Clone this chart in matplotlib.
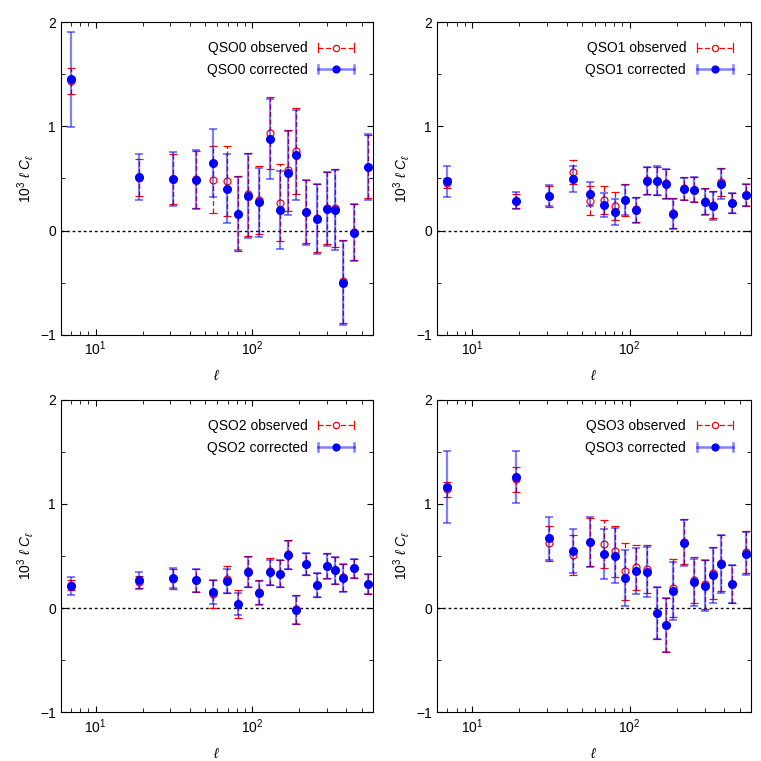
import numpy as np
import matplotlib
matplotlib.use('Agg')
import matplotlib.pyplot as plt
from matplotlib.lines import Line2D
from matplotlib.legend_handler import HandlerBase
from matplotlib.ticker import LogLocator, MultipleLocator, NullFormatter

plt.rcParams['font.family'] = ['Liberation Sans', 'DejaVu Sans']
plt.rcParams['mathtext.fontset'] = 'custom'
plt.rcParams['mathtext.rm'] = 'Liberation Sans'
plt.rcParams['mathtext.it'] = 'Liberation Sans:italic'

# multipole bin centres
ell = [7, 19, 31, 44, 56, 69, 81, 94, 110, 130, 150, 170, 190, 220, 258,
       300, 340, 378, 445, 550]

names = ['QSO0', 'QSO1', 'QSO2', 'QSO3']

# observed spectra (10^3 ell C_ell) and errors
obs0 = [1.435, 0.508, 0.495, 0.49, 0.489, 0.473, 0.163, 0.348, 0.294, 0.933,
        0.268, 0.578, 0.764, 0.182, 0.118, 0.217, 0.214, -0.486, -0.016, 0.613]
obs0_err = [0.123, 0.175, 0.238, 0.278, 0.32, 0.335, 0.358, 0.40, 0.328, 0.345,
            0.366, 0.39, 0.41, 0.303, 0.328, 0.348, 0.374, 0.398, 0.27, 0.30]
obs1 = [0.46, 0.281, 0.329, 0.565, 0.288, 0.294, 0.236, 0.294, 0.204, 0.482,
        0.479, 0.453, 0.166, 0.405, 0.393, 0.288, 0.246, 0.463, 0.265, 0.339]
obs1_err = [0.048, 0.067, 0.10, 0.115, 0.135, 0.137, 0.137, 0.15, 0.12, 0.128,
            0.135, 0.142, 0.142, 0.11, 0.12, 0.125, 0.13, 0.136, 0.096, 0.105]
obs2 = [0.217, 0.249, 0.278, 0.265, 0.137, 0.275, 0.038, 0.351, 0.153, 0.351,
        0.329, 0.514, -0.013, 0.422, 0.22, 0.406, 0.361, 0.294, 0.38, 0.233]
obs2_err = [0.048, 0.06, 0.095, 0.109, 0.133, 0.133, 0.138, 0.15, 0.112, 0.126,
            0.131, 0.14, 0.137, 0.106, 0.113, 0.119, 0.127, 0.133, 0.09, 0.098]
obs3 = [1.137, 1.233, 0.62, 0.511, 0.629, 0.613, 0.543, 0.351, 0.39, 0.374,
        -0.048, -0.16, 0.192, 0.636, 0.265, 0.23, 0.335, 0.431, 0.23, 0.537]
obs3_err = [0.075, 0.12, 0.165, 0.19, 0.23, 0.233, 0.246, 0.277, 0.219, 0.23,
            0.246, 0.259, 0.28, 0.217, 0.22, 0.235, 0.246, 0.27, 0.184, 0.2]

# corrected spectra and errors
cor0 = [1.45, 0.518, 0.498, 0.489, 0.649, 0.403, 0.163, 0.332, 0.272, 0.879,
        0.198, 0.553, 0.728, 0.176, 0.112, 0.208, 0.195, -0.502, -0.019, 0.613]
cor0_err = [0.455, 0.22, 0.26, 0.28, 0.325, 0.33, 0.35, 0.40, 0.33, 0.38,
            0.37, 0.405, 0.43, 0.31, 0.335, 0.355, 0.385, 0.40, 0.275, 0.315]
cor1 = [0.473, 0.288, 0.335, 0.495, 0.348, 0.246, 0.176, 0.294, 0.195, 0.473,
        0.479, 0.447, 0.16, 0.399, 0.393, 0.278, 0.236, 0.447, 0.265, 0.339]
cor1_err = [0.15, 0.085, 0.10, 0.128, 0.117, 0.118, 0.123, 0.147, 0.118, 0.135,
            0.139, 0.142, 0.145, 0.11, 0.12, 0.125, 0.133, 0.144, 0.096, 0.105]
cor2 = [0.208, 0.265, 0.288, 0.265, 0.153, 0.259, 0.042, 0.348, 0.144, 0.342,
        0.329, 0.508, -0.019, 0.422, 0.22, 0.399, 0.361, 0.288, 0.38, 0.233]
cor2_err = [0.085, 0.083, 0.094, 0.109, 0.113, 0.119, 0.105, 0.145, 0.112, 0.123,
            0.131, 0.138, 0.137, 0.106, 0.113, 0.119, 0.127, 0.133, 0.09, 0.098]
cor3 = [1.16, 1.256, 0.668, 0.546, 0.633, 0.518, 0.502, 0.288, 0.355, 0.342,
        -0.048, -0.166, 0.163, 0.623, 0.246, 0.214, 0.313, 0.422, 0.23, 0.521]
cor3_err = [0.344, 0.249, 0.206, 0.21, 0.238, 0.243, 0.264, 0.269, 0.224, 0.24,
            0.246, 0.259, 0.28, 0.217, 0.227, 0.243, 0.262, 0.275, 0.184, 0.208]

observed = [(obs0, obs0_err), (obs1, obs1_err), (obs2, obs2_err), (obs3, obs3_err)]
corrected = [(cor0, cor0_err), (cor1, cor1_err), (cor2, cor2_err), (cor3, cor3_err)]


class HorizontalErrHandler(HandlerBase):
    """legend key drawn as a horizontal error bar: |--o--|"""

    def __init__(self, ecolor, lw, ls, mec, mfc, ms):
        super().__init__()
        self.ecolor, self.lw, self.ls = ecolor, lw, ls
        self.mec, self.mfc, self.ms = mec, mfc, ms

    def create_artists(self, legend, orig_handle, xdescent, ydescent,
                       width, height, fontsize, trans):
        y = height / 2 - ydescent
        x0, x1 = -xdescent, -xdescent + width
        h = 3
        bar = Line2D([x0, x1], [y, y], color=self.ecolor, lw=self.lw,
                     ls=self.ls)
        capl = Line2D([x0, x0], [y - h, y + h], color=self.ecolor, lw=self.lw)
        capr = Line2D([x1, x1], [y - h, y + h], color=self.ecolor, lw=self.lw)
        dot = Line2D([(x0 + x1) / 2], [y], marker='o', ls='none',
                     mec=self.mec, mfc=self.mfc, ms=self.ms, mew=0.9)
        arts = [bar, capl, capr, dot]
        for a in arts:
            a.set_transform(trans)
        return arts


fig = plt.figure(figsize=(7.61, 7.61), dpi=100)

# axes rectangles [left, bottom, width, height] in figure fraction
boxes = [[0.080, 0.560, 0.410, 0.411],
         [0.574, 0.560, 0.413, 0.411],
         [0.080, 0.064, 0.410, 0.411],
         [0.574, 0.064, 0.413, 0.411]]

for i in range(4):
    ax = fig.add_axes(boxes[i])
    y_o, e_o = observed[i]
    y_c, e_c = corrected[i]

    ax.axhline(0, color='black', linestyle=(0, (2, 2)), linewidth=1, zorder=1)

    eb_o = ax.errorbar(ell, y_o, yerr=e_o, fmt='o', color='red', mfc='white',
                       mec='red', ms=5, mew=0.9, elinewidth=0.9, capsize=3,
                       capthick=0.9, label=names[i] + ' observed', zorder=2)
    eb_o[2][0].set_linestyle((0, (4, 2)))

    eb_c = ax.errorbar(ell, y_c, yerr=e_c, fmt='o', color='blue', ms=5.5,
                       ecolor=(0, 0, 1, 0.5), elinewidth=1.6, capsize=3,
                       capthick=1.4, label=names[i] + ' corrected', zorder=3)

    ax.set_xscale('log')
    ax.set_xlim(6, 590)
    ax.set_ylim(-1, 2)
    ax.yaxis.set_major_locator(MultipleLocator(1))
    ax.yaxis.set_minor_locator(MultipleLocator(0.5))
    ax.xaxis.set_major_locator(LogLocator(base=10))
    ax.xaxis.set_minor_locator(LogLocator(base=10, subs=np.arange(2, 10)))
    ax.xaxis.set_minor_formatter(NullFormatter())
    ax.tick_params(which='both', direction='in', top=True, right=True,
                   labelsize=10)
    ax.tick_params(which='major', length=4)
    ax.tick_params(which='minor', length=3)
    ax.set_yticklabels(['\u22121' if t < 0 else str(int(t))
                        for t in ax.get_yticks()])

    ax.set_xlabel(r'$\ell$', fontsize=10, labelpad=8)
    ax.set_ylabel(r'$10^3\ \ell\ C_\ell$', fontsize=10, labelpad=3)

    hmap = {
        eb_o: HorizontalErrHandler('red', 0.9, (0, (4, 2)), 'red', 'white', 4.5),
        eb_c: HorizontalErrHandler((0, 0, 1, 0.5), 1.8, '-', 'blue', 'blue', 5),
    }
    ax.legend(handles=[eb_o, eb_c], handler_map=hmap, loc='upper right',
              bbox_to_anchor=(0.981, 0.978), frameon=False,
              markerfirst=False, fontsize=10, handlelength=2.6,
              labelspacing=0.55, handletextpad=0.75)

plt.savefig('out.png', dpi=100)
